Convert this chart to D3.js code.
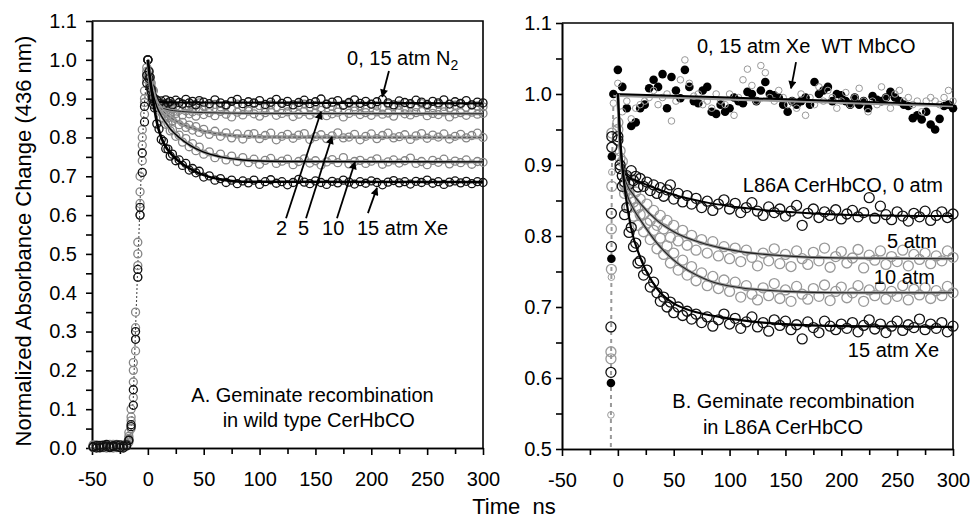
<!DOCTYPE html>
<html>
<head>
<meta charset="utf-8">
<script src="https://cdn.jsdelivr.net/npm/d3@7"></script>
<style>
  body { margin: 0; background: #fff; }
  svg { font-family: "Liberation Sans", Arial, sans-serif; }
</style>
</head>
<body>
<svg id="chart" width="973" height="521"></svg>
<script>
// ---- axis ticks ----
const xMajor = [-50, 0, 50, 100, 150, 200, 250, 300];
const xMinor = [-25, 25, 75, 125, 175, 225, 275];
const yMajorA = [0, 0.1, 0.2, 0.3, 0.4, 0.5, 0.6, 0.7, 0.8, 0.9, 1.0, 1.1];
const yMinorA = [0.05, 0.15, 0.25, 0.35, 0.45, 0.55, 0.65, 0.75, 0.85, 0.95, 1.05];
const yMajorB = [0.5, 0.6, 0.7, 0.8, 0.9, 1.0, 1.1];
const yMinorB = [0.55, 0.65, 0.75, 0.85, 0.95, 1.05];

// ---- panel A: wild type CerHbCO ----
const tLeadA = [-49, -46, -43, -40, -37, -34, -31, -28, -25, -22, -19, -17, -15, -13, -11, -9, -7, -5, -3, -1];
const tA = [0, 1, 2, 3, 4, 5, 6, 8, 10, 12, 14, 16, 18, 20, 22, 25, 28, 31, 34, 37, 40, 43, 46, 50, 55, 60, 65, 70, 75, 80, 85, 90, 95, 100, 105, 110, 115, 120, 125, 130, 135, 140, 145, 150, 155, 160, 165, 170, 175, 180, 185, 190, 195, 200, 205, 210, 215, 220, 225, 230, 235, 240, 245, 250, 255, 260, 265, 270, 275, 280, 285, 290, 295, 300];

const n2zeroLead = [0.004, 0.0, 0.007, 0.002, 0.009, 0.001, 0.006, 0.003, 0.008, 0.0, 0.005, 0.02, 0.06, 0.15, 0.3, 0.46, 0.62, 0.76, 0.88, 0.96];
const n2fifteenLead = [0.001, 0.008, 0.003, 0.006, 0.0, 0.007, 0.002, 0.009, 0.004, 0.006, 0.012, 0.03, 0.08, 0.2, 0.35, 0.5, 0.66, 0.8, 0.9, 0.97];
const xe2Lead = [0.006, 0.002, 0.0, 0.008, 0.004, 0.005, 0.009, 0.001, 0.006, 0.003, 0.01, 0.025, 0.07, 0.17, 0.28, 0.44, 0.6, 0.74, 0.86, 0.95];
const xe5Lead = [0.003, 0.007, 0.005, 0.001, 0.006, 0.009, 0.0, 0.007, 0.002, 0.008, 0.006, 0.04, 0.1, 0.22, 0.25, 0.53, 0.7, 0.82, 0.92, 0.98];
const xe10Lead = [0.008, 0.003, 0.006, 0.004, 0.002, 0.006, 0.008, 0.004, 0.007, 0.001, 0.009, 0.015, 0.05, 0.13, 0.31, 0.47, 0.63, 0.78, 0.89, 0.96];
const xe15Lead = [0.002, 0.006, 0.001, 0.007, 0.005, 0.003, 0.004, 0.008, 0.001, 0.005, 0.008, 0.02, 0.055, 0.11, 0.28, 0.44, 0.6, 0.71, 0.84, 0.94];

const n2zeroA = [1.0, 0.952, 0.928, 0.918, 0.9, 0.903, 0.892, 0.896, 0.887, 0.894,
  0.885, 0.897, 0.889, 0.893, 0.884, 0.896, 0.89, 0.886, 0.898, 0.889,
  0.893, 0.884, 0.895, 0.891, 0.887, 0.897, 0.889, 0.884, 0.893, 0.898,
  0.887, 0.892, 0.889, 0.895, 0.885, 0.891, 0.898, 0.888, 0.893, 0.884,
  0.89, 0.896, 0.887, 0.892, 0.899, 0.886, 0.891, 0.895, 0.883, 0.89,
  0.897, 0.888, 0.893, 0.886, 0.892, 0.898, 0.889, 0.884, 0.894, 0.89,
  0.887, 0.896, 0.891, 0.885, 0.893, 0.889, 0.897, 0.886, 0.892, 0.888,
  0.895, 0.884, 0.891, 0.889];
const n2fifteenA = [1.0, 0.96, 0.933, 0.912, 0.905, 0.894, 0.897, 0.886, 0.89, 0.881,
  0.888, 0.879, 0.885, 0.877, 0.886, 0.88, 0.875, 0.887, 0.882, 0.878,
  0.884, 0.876, 0.889, 0.881, 0.877, 0.885, 0.879, 0.883, 0.874, 0.886,
  0.88, 0.878, 0.887, 0.882, 0.876, 0.884, 0.879, 0.888, 0.881, 0.875,
  0.883, 0.886, 0.878, 0.882, 0.877, 0.885, 0.88, 0.874, 0.884, 0.887,
  0.879, 0.882, 0.876, 0.885, 0.881, 0.878, 0.886, 0.88, 0.883, 0.875,
  0.884, 0.879, 0.887, 0.882, 0.877, 0.885, 0.88, 0.876, 0.883, 0.886,
  0.878, 0.884, 0.881, 0.879];
const xe2A = [1.0, 0.958, 0.94, 0.912, 0.91, 0.893, 0.896, 0.879, 0.884, 0.872,
  0.879, 0.868, 0.876, 0.864, 0.873, 0.862, 0.87, 0.858, 0.869, 0.861,
  0.866, 0.855, 0.868, 0.859, 0.864, 0.856, 0.867, 0.86, 0.853, 0.865,
  0.858, 0.868, 0.861, 0.855, 0.864, 0.869, 0.857, 0.862, 0.866, 0.854,
  0.86, 0.867, 0.858, 0.863, 0.87, 0.856, 0.861, 0.865, 0.853, 0.862,
  0.868, 0.859, 0.864, 0.857, 0.866, 0.86, 0.863, 0.855, 0.869, 0.861,
  0.858, 0.864, 0.867, 0.856, 0.862, 0.859, 0.866, 0.853, 0.861, 0.864,
  0.857, 0.865, 0.86, 0.862];
const xe5A = [1.0, 0.972, 0.946, 0.94, 0.921, 0.92, 0.9, 0.896, 0.877, 0.879,
  0.862, 0.866, 0.851, 0.857, 0.843, 0.848, 0.833, 0.839, 0.826, 0.832,
  0.819, 0.828, 0.813, 0.821, 0.808, 0.816, 0.803, 0.812, 0.799, 0.809,
  0.796, 0.808, 0.81, 0.797, 0.805, 0.811, 0.794, 0.803, 0.808, 0.798,
  0.806, 0.81, 0.795, 0.802, 0.807, 0.797, 0.804, 0.812, 0.799, 0.801,
  0.808, 0.794, 0.803, 0.809, 0.797, 0.805, 0.811, 0.799, 0.802, 0.807,
  0.795, 0.804, 0.81, 0.798, 0.806, 0.801, 0.809, 0.796, 0.803, 0.808,
  0.799, 0.805, 0.811, 0.8];
const xe10A = [1.0, 0.968, 0.955, 0.93, 0.924, 0.903, 0.9, 0.876, 0.87, 0.85,
  0.851, 0.834, 0.836, 0.817, 0.82, 0.803, 0.806, 0.788, 0.797, 0.776,
  0.784, 0.766, 0.775, 0.757, 0.763, 0.748, 0.757, 0.742, 0.752, 0.738,
  0.748, 0.735, 0.744, 0.731, 0.741, 0.746, 0.733, 0.739, 0.744, 0.73,
  0.738, 0.745, 0.734, 0.74, 0.729, 0.737, 0.743, 0.735, 0.748, 0.732,
  0.738, 0.741, 0.733, 0.739, 0.745, 0.731, 0.737, 0.742, 0.734, 0.74,
  0.747, 0.733, 0.738, 0.73, 0.741, 0.736, 0.744, 0.732, 0.739, 0.735,
  0.742, 0.731, 0.738, 0.736];
const xe15A = [1.0, 0.97, 0.955, 0.925, 0.905, 0.885, 0.876, 0.835, 0.822, 0.795,
  0.79, 0.771, 0.77, 0.752, 0.757, 0.74, 0.742, 0.728, 0.733, 0.716,
  0.72, 0.709, 0.713, 0.698, 0.701, 0.69, 0.694, 0.684, 0.69, 0.681,
  0.688, 0.683, 0.69, 0.679, 0.686, 0.691, 0.682, 0.686, 0.678, 0.684,
  0.692, 0.685, 0.681, 0.688, 0.684, 0.679, 0.687, 0.683, 0.69, 0.685,
  0.68, 0.686, 0.682, 0.688, 0.684, 0.678, 0.685, 0.689, 0.683, 0.686,
  0.68, 0.687, 0.684, 0.69, 0.682, 0.686, 0.679, 0.685, 0.688, 0.683,
  0.687, 0.681, 0.686, 0.684];

// fitted curves, panel A: [time, value] knots
const fitN2A = [[0, 1], [2, 0.93], [4, 0.905], [7, 0.895], [12, 0.891], [30, 0.89], [300, 0.888]];
const fitXe2A = [[0, 1], [2, 0.935], [4, 0.906], [6, 0.892], [10, 0.88], [16, 0.873], [30, 0.867], [50, 0.864], [100, 0.862], [300, 0.861]];
const fitXe5A = [[0, 1], [2, 0.95], [4, 0.926], [6, 0.905], [10, 0.882], [14, 0.867], [20, 0.852], [28, 0.838], [40, 0.824], [55, 0.813], [75, 0.805], [110, 0.801], [300, 0.8]];
const fitXe10A = [[0, 1], [2, 0.95], [4, 0.92], [8, 0.88], [12, 0.856], [16, 0.838], [20, 0.822], [28, 0.8], [37, 0.781], [50, 0.762], [65, 0.75], [85, 0.742], [120, 0.738], [300, 0.737]];
const fitXe15A = [[0, 1], [2, 0.95], [4, 0.91], [6, 0.872], [8, 0.84], [12, 0.8], [16, 0.776], [20, 0.76], [28, 0.738], [40, 0.716], [50, 0.703], [65, 0.692], [85, 0.686], [300, 0.685]];

// ---- panel B: L86A CerHbCO and WT MbCO ----
const tLeadB = [-6.6, -6.2, -5.8, -5.4];
const tWT = [-4, 0, 4, 8, 12, 16, 20, 24, 28, 32, 36, 40, 44, 48, 52, 56, 60, 64, 68, 72, 76, 80, 84, 88, 92, 96, 100, 104, 108, 112, 116, 120, 124, 128, 132, 136, 140, 144, 148, 152, 156, 160, 164, 168, 172, 176, 180, 184, 188, 192, 196, 200, 204, 208, 212, 216, 220, 224, 228, 232, 236, 240, 244, 248, 252, 256, 260, 264, 268, 272, 276, 280, 284, 288, 292, 296, 300];
const tL = [0, 2, 4, 6, 8, 10, 12, 14, 16, 18, 20, 23, 26, 29, 32, 35, 38, 41, 44, 47, 50, 54, 58, 62, 66, 70, 75, 80, 85, 90, 95, 100, 105, 110, 115, 120, 125, 130, 135, 140, 145, 150, 155, 160, 165, 170, 175, 180, 185, 190, 195, 200, 205, 210, 215, 220, 225, 230, 235, 240, 245, 250, 255, 260, 265, 270, 275, 280, 285, 290, 295, 300];

const wtZeroLead = [0.42, 0.593, 0.768, 0.912];
const wtXeLead = [0.3, 0.548, 0.742, 0.89];
const l0Lead = [0.46, 0.608, 0.785, 0.925];
const l5Lead = [0.47, 0.637, 0.81, 0.945];
const l10Lead = [0.45, 0.627, 0.753, 0.87];
const l15Lead = [0.49, 0.672, 0.832, 0.94];

const wtZeroB = [1.0, 1.034, 1.01, 0.98, 0.955, 0.96, 0.98, 0.985, 1.008, 1.02,
  1.01, 1.028, 0.98, 1.024, 1.005, 0.994, 1.034, 1.01, 0.99, 0.987,
  1.005, 1.01, 0.975, 0.972, 0.985, 0.975, 0.98, 0.995, 0.99, 0.987,
  1.003, 1.0, 0.99, 1.005, 1.017, 1.0, 0.998, 0.995, 0.985, 0.975,
  0.99, 0.985, 0.99, 0.995, 0.985, 1.017, 1.0, 1.005, 1.01, 0.99,
  1.0, 0.998, 0.99, 0.985, 0.995, 0.985, 0.99, 0.98, 0.997, 0.992,
  0.99, 0.995, 1.003, 0.995, 0.99, 0.985, 0.983, 0.966, 0.97, 0.964,
  0.975, 0.957, 0.95, 0.965, 0.983, 0.985, 0.98];
const wtXeB = [0.987, 1.015, 0.975, 0.99, 0.965, 0.98, 0.985, 0.99, 0.995, 1.005,
  0.985, 0.995, 1.0, 0.962, 0.99, 1.02, 1.048, 1.015, 0.997, 1.0,
  0.985, 0.99, 0.98, 1.0, 0.99, 0.985, 1.0, 0.97, 0.995, 1.02,
  1.035, 1.012, 0.99, 1.04, 1.03, 0.995, 0.99, 1.005, 0.995, 0.985,
  0.99, 0.98, 1.0, 0.97, 0.995, 0.985, 1.01, 0.99, 1.005, 0.995,
  0.98, 0.99, 1.002, 0.985, 0.995, 1.008, 0.99, 0.975, 0.99, 0.985,
  1.01, 0.995, 0.98, 1.0, 1.005, 0.99, 0.995, 0.985, 0.99, 0.975,
  0.99, 0.995, 0.99, 0.985, 0.995, 1.005, 0.99];
const l0B = [0.935, 0.9, 0.885, 0.876, 0.885, 0.873, 0.892, 0.878, 0.884, 0.869,
  0.881, 0.87, 0.876, 0.864, 0.872, 0.86, 0.868, 0.856, 0.865, 0.872,
  0.852, 0.86, 0.848, 0.857, 0.845, 0.853, 0.84, 0.849, 0.836, 0.845,
  0.851, 0.838, 0.846, 0.833, 0.84, 0.847, 0.835, 0.829, 0.841, 0.833,
  0.838, 0.828, 0.835, 0.843, 0.815, 0.832, 0.838, 0.826, 0.834, 0.829,
  0.837, 0.824, 0.831, 0.836, 0.827, 0.833, 0.854, 0.825, 0.842, 0.83,
  0.823, 0.834, 0.828, 0.821, 0.832, 0.827, 0.835, 0.822, 0.829, 0.834,
  0.826, 0.831];
const l5B = [0.96, 0.92, 0.905, 0.872, 0.883, 0.86, 0.875, 0.848, 0.862, 0.84,
  0.852, 0.83, 0.845, 0.822, 0.836, 0.815, 0.829, 0.81, 0.822, 0.798,
  0.815, 0.793, 0.808, 0.787, 0.801, 0.78, 0.795, 0.776, 0.792, 0.772,
  0.785, 0.768, 0.783, 0.764, 0.78, 0.77, 0.758, 0.776, 0.765, 0.782,
  0.761, 0.774, 0.757, 0.779, 0.768, 0.76, 0.777, 0.765, 0.783, 0.756,
  0.771, 0.778, 0.762, 0.769, 0.781, 0.755, 0.773, 0.766, 0.779, 0.76,
  0.771, 0.764, 0.78, 0.758, 0.774, 0.767, 0.776, 0.761, 0.772, 0.765,
  0.779, 0.77];
const l10B = [0.95, 0.91, 0.885, 0.86, 0.866, 0.84, 0.852, 0.828, 0.84, 0.815,
  0.83, 0.806, 0.818, 0.795, 0.808, 0.782, 0.797, 0.774, 0.786, 0.762,
  0.776, 0.752, 0.766, 0.745, 0.757, 0.737, 0.748, 0.73, 0.743, 0.726,
  0.738, 0.722, 0.735, 0.714, 0.73, 0.718, 0.71, 0.727, 0.716, 0.733,
  0.712, 0.724, 0.708, 0.729, 0.718, 0.711, 0.726, 0.715, 0.731, 0.709,
  0.722, 0.728, 0.713, 0.72, 0.73, 0.708, 0.724, 0.716, 0.729, 0.711,
  0.722, 0.715, 0.73, 0.71, 0.725, 0.717, 0.727, 0.712, 0.723, 0.716,
  0.729, 0.72];
const l15B = [0.94, 0.895, 0.87, 0.83, 0.84, 0.805, 0.812, 0.785, 0.79, 0.762,
  0.765, 0.745, 0.752, 0.728, 0.735, 0.72, 0.708, 0.714, 0.7, 0.707,
  0.692, 0.7, 0.688, 0.694, 0.683, 0.69, 0.678, 0.686, 0.673, 0.682,
  0.69, 0.676, 0.684, 0.67, 0.679, 0.686, 0.672, 0.678, 0.666, 0.682,
  0.674, 0.68, 0.668, 0.675, 0.655, 0.679, 0.671, 0.664, 0.68, 0.673,
  0.668, 0.676, 0.67, 0.678, 0.665, 0.674, 0.682, 0.669, 0.676, 0.664,
  0.673, 0.68, 0.667, 0.675, 0.671, 0.683, 0.668, 0.676, 0.67, 0.678,
  0.665, 0.673];

// fitted curves, panel B
const fitWtZeroB = [[-4, 1.0], [100, 0.995], [200, 0.99], [300, 0.985]];
const fitWtXeB = [[-4, 0.998], [150, 0.99], [300, 0.983]];
const fitL0B = [[0, 1.0], [1, 0.95], [2, 0.915], [4, 0.893], [8, 0.885], [20, 0.876], [50, 0.858], [80, 0.847], [110, 0.84], [150, 0.834], [200, 0.83], [300, 0.828]];
const fitL5B = [[0, 1.0], [1, 0.955], [2, 0.925], [4, 0.895], [8, 0.873], [14, 0.858], [20, 0.846], [35, 0.822], [50, 0.806], [80, 0.788], [110, 0.778], [150, 0.772], [200, 0.769], [300, 0.768]];
const fitL10B = [[0, 1.0], [1, 0.955], [2, 0.925], [4, 0.89], [8, 0.86], [14, 0.838], [20, 0.823], [35, 0.79], [50, 0.766], [80, 0.738], [110, 0.727], [150, 0.722], [200, 0.72], [300, 0.72]];
const fitL15B = [[0, 1.0], [2, 0.94], [4, 0.9], [6, 0.87], [8, 0.846], [12, 0.81], [20, 0.77], [35, 0.726], [50, 0.705], [65, 0.695], [95, 0.685], [130, 0.678], [200, 0.673], [300, 0.672]];

// ---- drawing ----
const BLACK = "#111";
const GREY = "#858585";

const svg = d3.select("#chart");
const defs = svg.append("defs");
defs.append("marker")
  .attr("id", "arrow")
  .attr("viewBox", "0 0 10 10")
  .attr("refX", 9).attr("refY", 5)
  .attr("markerWidth", 9).attr("markerHeight", 8)
  .attr("markerUnits", "userSpaceOnUse")
  .attr("orient", "auto")
  .append("path").attr("d", "M0,0L10,5L0,10z").attr("fill", "#000");

const xA = d3.scaleLinear().domain([-50, 300]).range([92, 483]);
const yA = d3.scaleLinear().domain([0, 1.1]).range([448, 21]);
const xB = d3.scaleLinear().domain([-50, 300]).range([562, 953]);
const yB = d3.scaleLinear().domain([0.5, 1.1]).range([449, 23]);

function frame(x, y, yMajor, yMinor, labelPad, id, clipBottom) {
  const [x0, x1] = x.range();
  const [y0, y1] = y.range();

  defs.append("clipPath").attr("id", id)
    .append("rect")
    .attr("x", x0 - 6).attr("y", y1)
    .attr("width", x1 - x0 + 12)
    .attr("height", y0 - y1 + clipBottom);

  const style = g => {
    g.selectAll("path, line").attr("stroke", "#000").attr("stroke-width", 1.6);
    g.selectAll("text").attr("fill", "#000").attr("font-size", 20)
      .attr("font-family", "'Liberation Sans', Arial, sans-serif");
  };

  svg.append("g").attr("transform", `translate(0,${y0})`)
    .call(d3.axisBottom(x).tickValues(xMinor).tickSize(6).tickSizeOuter(0).tickFormat(""))
    .call(style);
  svg.append("g").attr("transform", `translate(0,${y0})`)
    .call(d3.axisBottom(x).tickValues(xMajor).tickSize(7).tickSizeOuter(0).tickPadding(17).tickFormat(d => String(d)))
    .call(style);
  svg.append("g").attr("transform", `translate(${x0},0)`)
    .call(d3.axisLeft(y).tickValues(yMinor).tickSize(6).tickSizeOuter(0).tickFormat(""))
    .call(style);
  svg.append("g").attr("transform", `translate(${x0},0)`)
    .call(d3.axisLeft(y).tickValues(yMajor).tickSize(6).tickSizeOuter(0).tickPadding(labelPad).tickFormat(d => d.toFixed(1)))
    .call(style);

  svg.append("path")
    .attr("d", `M${x0},${y1}H${x1}V${y0}`)
    .attr("fill", "none").attr("stroke", "#000").attr("stroke-width", 1.6);
}

function points(g, x, y, tLead, lead, t, v, o) {
  const pts = tLead.map((d, i) => [d, lead[i]]).concat(t.map((d, i) => [d, v[i]]));
  g.append("g").selectAll("circle")
    .data(pts)
    .join("circle")
    .attr("cx", d => x(d[0]))
    .attr("cy", d => y(d[1]))
    .attr("r", o.r)
    .attr("fill", o.fill || "none")
    .attr("stroke", o.stroke || "none")
    .attr("stroke-width", o.sw || 1.3);
}

function fit(g, x, y, knots, color, w, dash) {
  g.append("path")
    .datum(knots)
    .attr("d", d3.line().x(d => x(d[0])).y(d => y(d[1])).curve(d3.curveMonotoneX))
    .attr("fill", "none")
    .attr("stroke", color)
    .attr("stroke-width", w)
    .attr("stroke-dasharray", dash || null);
}

function rise(g, x, y, tLead, lead, t0, v0, color, w, dash) {
  const pts = tLead.map((d, i) => [d, lead[i]]).concat([[t0, v0]]);
  g.append("path")
    .datum(pts)
    .attr("d", d3.line().x(d => x(d[0])).y(d => y(d[1])))
    .attr("fill", "none").attr("stroke", color)
    .attr("stroke-width", w).attr("stroke-dasharray", dash);
}

function label(x, y, t, v, txt, anchor, sub) {
  const el = svg.append("text")
    .attr("x", x(t)).attr("y", y(v))
    .attr("text-anchor", anchor || "start")
    .attr("font-size", 20).attr("fill", "#000")
    .style("white-space", "pre");
  el.append("tspan").text(txt);
  if (sub) el.append("tspan").attr("dy", 5).attr("font-size", 14).text(sub);
}

function arrow(x, y, t0, v0, t1, v1) {
  svg.append("line")
    .attr("x1", x(t0)).attr("y1", y(v0))
    .attr("x2", x(t1)).attr("y2", y(v1))
    .attr("stroke", "#000").attr("stroke-width", 1.8)
    .attr("marker-end", "url(#arrow)");
}

// panel A
frame(xA, yA, yMajorA, yMinorA, 9, "clipA", 6);
const gA = svg.append("g").attr("clip-path", "url(#clipA)");
rise(gA, xA, yA, tLeadA.slice(10), xe10Lead.slice(10), tA[0], xe10A[0], BLACK, 1.1, "1.5,2.5");
points(gA, xA, yA, tLeadA, xe5Lead, tA, xe5A, { r: 4, stroke: GREY });
points(gA, xA, yA, tLeadA, xe2Lead, tA, xe2A, { r: 4, stroke: GREY });
points(gA, xA, yA, tLeadA, n2fifteenLead, tA, n2fifteenA, { r: 4, stroke: GREY });
points(gA, xA, yA, tLeadA, xe10Lead, tA, xe10A, { r: 4, stroke: GREY });
points(gA, xA, yA, tLeadA, n2zeroLead, tA, n2zeroA, { r: 4, stroke: BLACK });
points(gA, xA, yA, tLeadA, xe15Lead, tA, xe15A, { r: 4, stroke: BLACK });
fit(gA, xA, yA, fitN2A, "#000", 2.2);
fit(gA, xA, yA, fitXe2A, "#999", 3);
fit(gA, xA, yA, fitXe2A, "#222", 1);
fit(gA, xA, yA, fitXe5A, "#999", 3.5);
fit(gA, xA, yA, fitXe5A, "#444", 0.8, "3,2");
fit(gA, xA, yA, fitXe10A, "#999", 3);
fit(gA, xA, yA, fitXe10A, "#000", 1.4);
fit(gA, xA, yA, fitXe15A, "#000", 2.6);

label(xA, yA, 178.3, 0.987, "0, 15 atm N", "start", "2");
arrow(xA, yA, 215.8, 0.971, 209.8, 0.905);
label(xA, yA, 114.7, 0.549, "2");
label(xA, yA, 134.4, 0.549, "5");
label(xA, yA, 155.9, 0.549, "10");
label(xA, yA, 187.2, 0.549, "15 atm Xe");
arrow(xA, yA, 123.7, 0.592, 155, 0.866);
arrow(xA, yA, 141.6, 0.592, 164.8, 0.802);
arrow(xA, yA, 169.3, 0.592, 185.4, 0.737);
arrow(xA, yA, 197, 0.605, 205.1, 0.67);
label(xA, yA, 147.4, 0.118, "A. Geminate recombination", "middle");
label(xA, yA, 153, 0.054, "in wild type CerHbCO", "middle");

// panel B
frame(xB, yB, yMajorB, yMinorB, 4, "clipB", 0);
const gB = svg.append("g").attr("clip-path", "url(#clipB)");
rise(gB, xB, yB, tLeadB, wtXeLead, tWT[0], wtXeB[0], "#999", 2, "4,4");
points(gB, xB, yB, tLeadB, l5Lead, tL, l5B, { r: 5, stroke: "#999" });
points(gB, xB, yB, tLeadB, l10Lead, tL, l10B, { r: 5, stroke: "#999" });
points(gB, xB, yB, tLeadB, l0Lead, tL, l0B, { r: 5, stroke: BLACK });
points(gB, xB, yB, tLeadB, l15Lead, tL, l15B, { r: 5, stroke: BLACK });
points(gB, xB, yB, tLeadB, wtZeroLead, tWT, wtZeroB, { r: 4.3, fill: "#000" });
points(gB, xB, yB, tLeadB, wtXeLead, tWT, wtXeB, { r: 3.3, stroke: "#999", sw: 1 });
fit(gB, xB, yB, fitWtXeB, "#999", 2.5);
fit(gB, xB, yB, fitWtZeroB, "#000", 2);
fit(gB, xB, yB, fitL0B, "#000", 2);
fit(gB, xB, yB, fitL5B, "#999", 3);
fit(gB, xB, yB, fitL5B, "#222", 1.1);
fit(gB, xB, yB, fitL10B, "#999", 3);
fit(gB, xB, yB, fitL10B, "#222", 1.1);
fit(gB, xB, yB, fitL15B, "#000", 2.2);

label(xB, yB, 70.8, 1.058, "0, 15 atm Xe  WT MbCO");
arrow(xB, yB, 159.5, 1.045, 155, 1.008);
label(xB, yB, 291, 0.862, "L86A CerHbCO, 0 atm", "end");
label(xB, yB, 285.7, 0.783, "5 atm", "end");
label(xB, yB, 283.9, 0.732, "10 atm", "end");
label(xB, yB, 287.5, 0.63, "15 atm Xe", "end");
label(xB, yB, 157.2, 0.558, "B. Geminate recombination", "middle");
label(xB, yB, 147.8, 0.521, "in L86A CerHbCO", "middle");

// axis titles
svg.append("text")
  .attr("transform", "translate(31,241) rotate(-90)")
  .attr("text-anchor", "middle")
  .attr("font-size", 22)
  .text("Normalized Absorbance Change (436 nm)");
svg.append("text")
  .attr("x", 514).attr("y", 514)
  .attr("text-anchor", "middle")
  .attr("font-size", 22)
  .style("white-space", "pre")
  .text("Time  ns");
</script>
</body>
</html>
